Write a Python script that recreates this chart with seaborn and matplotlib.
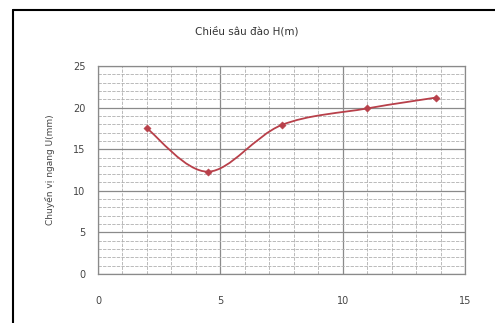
import numpy as np
import pandas as pd
import seaborn as sns
import matplotlib.pyplot as plt
from matplotlib.path import Path
from matplotlib.patches import PathPatch
from matplotlib.lines import Line2D
from matplotlib.ticker import MultipleLocator

# depth H(m) vs horizontal displacement U(mm)
depth = [2.0, 4.5, 7.5, 11.0, 13.8]
disp = [17.5, 12.3, 17.9, 19.9, 21.2]
x_ticks = [0, 5, 10, 15]
y_ticks = [0, 5, 10, 15, 20, 25]

df = pd.DataFrame({"H": depth, "U": disp})

sns.set_theme(style="white")
plt.rcParams['font.family'] = ['DejaVu Sans']

fig = plt.figure(figsize=(4.95, 3.23), dpi=100)
ax = fig.add_axes([98 / 495, 1 - 274 / 323, (465 - 98) / 495, (274 - 66) / 323])

line_col = "#b8404a"

# smoothed line (Excel style catmull-rom -> bezier) in data coords
pts = np.column_stack([depth, disp])
verts = [tuple(pts[0])]
codes = [Path.MOVETO]
for k in range(len(pts) - 1):
    p0 = pts[k - 1] if k > 0 else pts[k]
    p1 = pts[k]
    p2 = pts[k + 1]
    p3 = pts[k + 2] if k + 2 < len(pts) else pts[k + 1]
    c1 = p1 + (p2 - p0) / 6
    c2 = p2 - (p3 - p1) / 6
    verts += [tuple(c1), tuple(c2), tuple(p2)]
    codes += [Path.CURVE4] * 3
ax.add_patch(PathPatch(Path(verts, codes), facecolor="none", edgecolor=line_col,
                       lw=1.3, zorder=3))

sns.scatterplot(data=df, x="H", y="U", ax=ax, color=line_col, marker="D", s=14,
                edgecolor=line_col, zorder=4, legend=False)

ax.set_xlim(0, 15)
ax.set_ylim(0, 25)
ax.set_xticks(x_ticks)
ax.set_yticks(y_ticks)
ax.xaxis.set_minor_locator(MultipleLocator(1))
ax.yaxis.set_minor_locator(MultipleLocator(1))
ax.grid(which="major", color="#8a8a8a", lw=0.9)
ax.grid(which="minor", color="#b0b0b0", lw=0.6, ls=(0, (4, 1.5)))
ax.set_axisbelow(True)
for s in ax.spines.values():
    s.set_color("#8a8a8a")
    s.set_linewidth(0.9)

ax.tick_params(axis="x", length=0, pad=16, labelsize=7, labelcolor="#444444")
ax.tick_params(axis="y", length=0, pad=9, labelsize=7, labelcolor="#444444")
ax.set_xlabel("")
ax.set_ylabel("Chuyển vị ngang U(mm)", fontsize=6.5, color="#444444", labelpad=13)

fig.text(247 / 495, 1 - 31 / 323, "Chiều sâu đào H(m)", ha="center", va="center",
         fontsize=7.5, color="#333333")

# outer chart frame (left and top edges visible)
fig.add_artist(Line2D([13 / 495, 13 / 495], [0, 1 - 10 / 323], transform=fig.transFigure,
                      color="black", lw=1.5))
fig.add_artist(Line2D([13 / 495, 1], [1 - 10 / 323, 1 - 10 / 323], transform=fig.transFigure,
                      color="black", lw=1.5))

plt.savefig("out.png", dpi=100)
